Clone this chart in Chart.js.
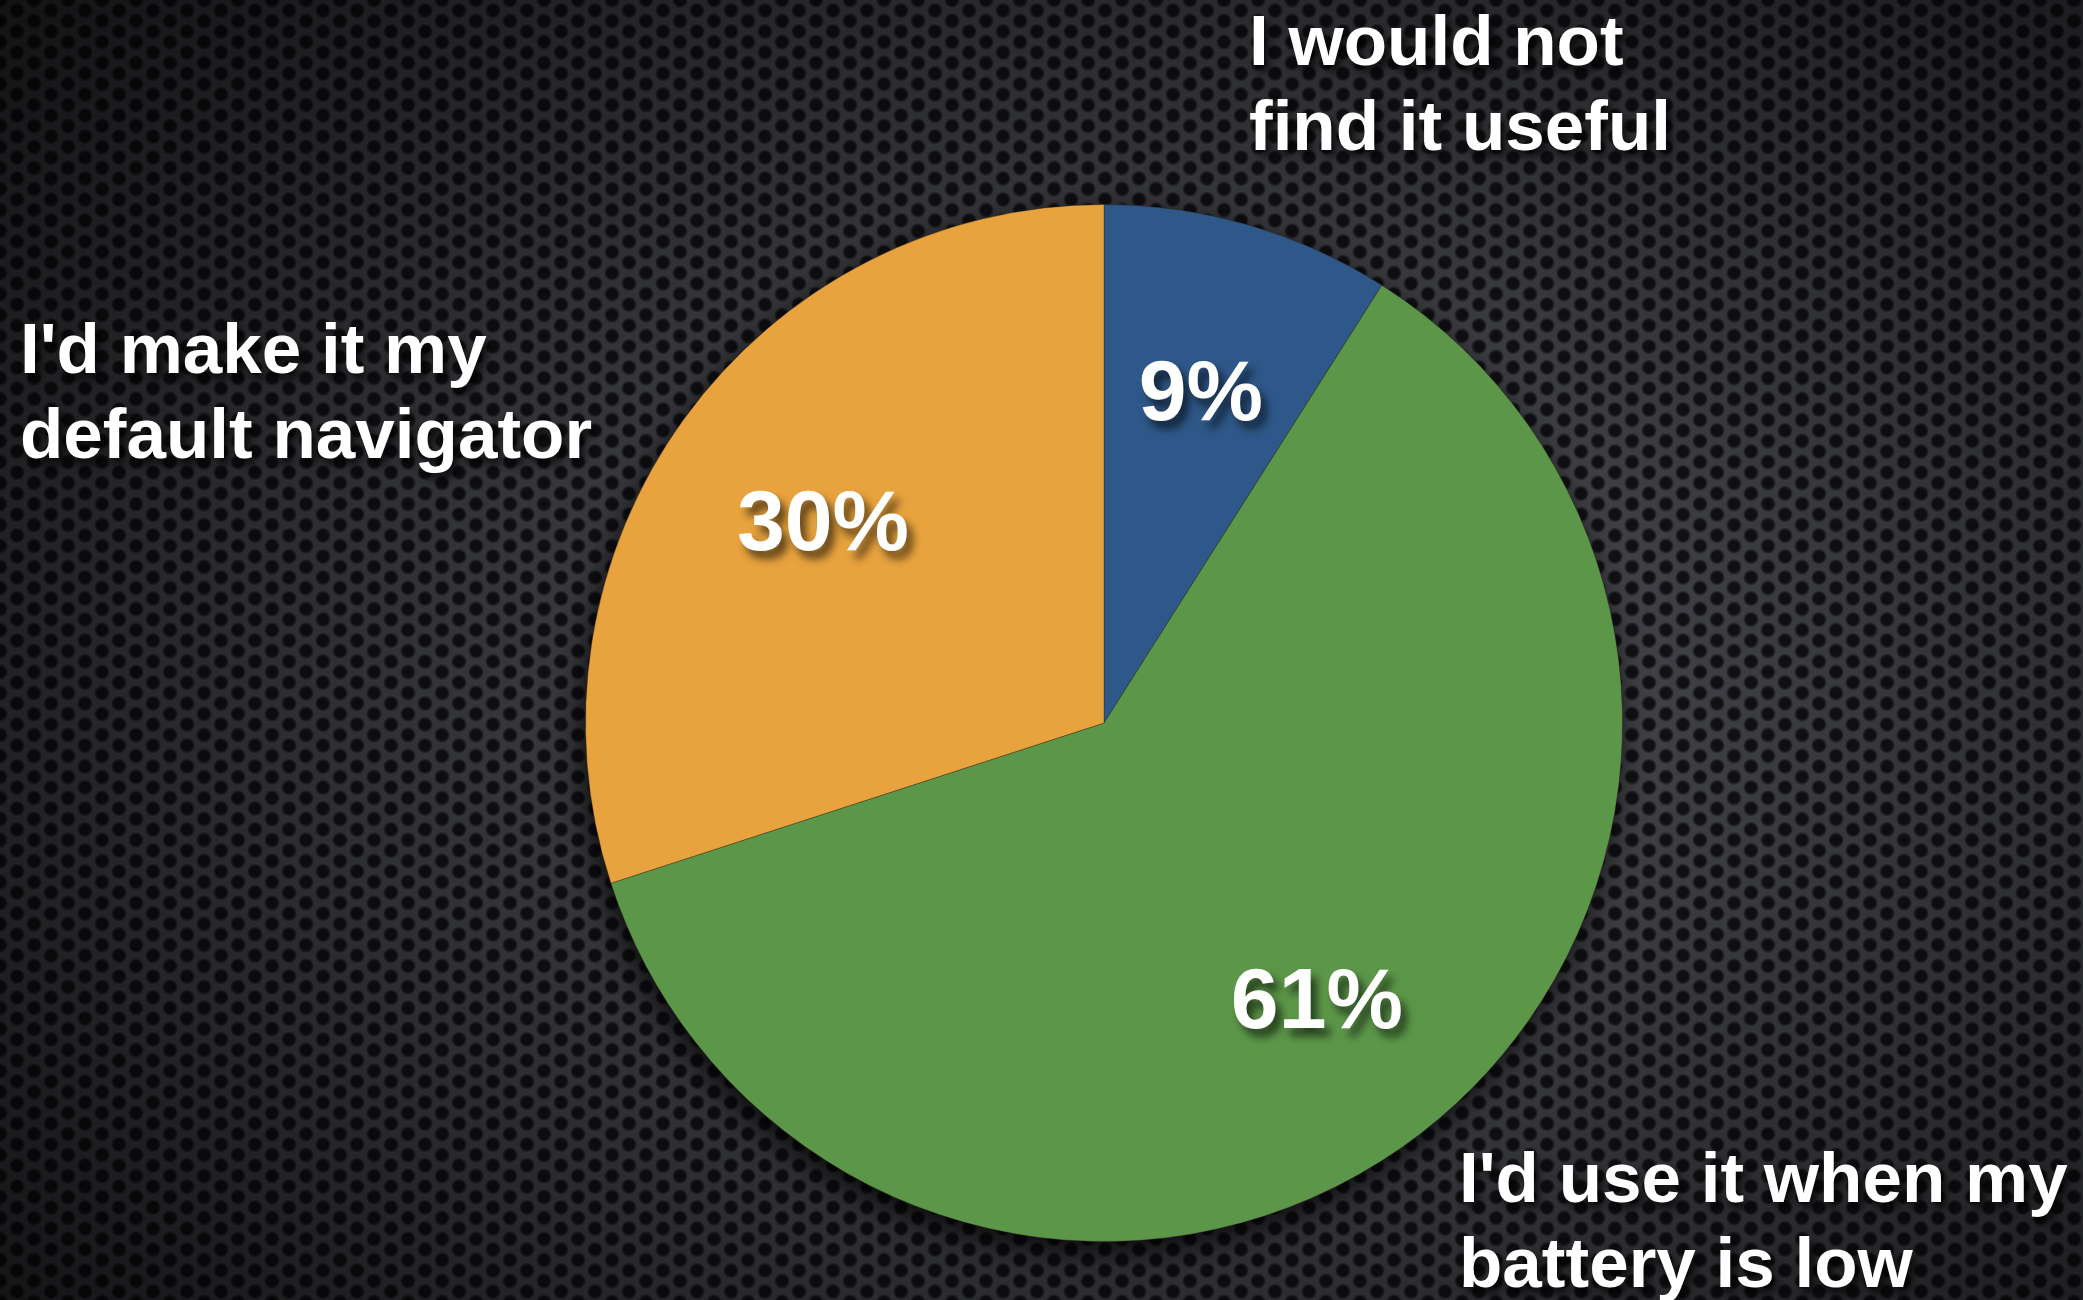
<!DOCTYPE html>
<html>
<head>
<meta charset="utf-8">
<script src="https://cdn.jsdelivr.net/npm/chart.js@4"></script>
<style>
  html, body { margin: 0; padding: 0; }
  body {
    width: 2083px;
    height: 1300px;
    overflow: hidden;
    background-color: #44454a;
    background-image:
      radial-gradient(ellipse 75% 80% at 58% 52%, rgba(0,0,0,0) 20%, rgba(0,0,0,0.35) 60%, rgba(0,0,0,0.72) 100%),
      radial-gradient(circle at 50% 50%, #121216 5px, rgba(18,18,22,0.6) 6.5px, rgba(0,0,0,0) 8px),
      radial-gradient(circle at 50% 50%, #121216 5px, rgba(18,18,22,0.6) 6.5px, rgba(0,0,0,0) 8px);
    background-size: 100% 100%, 34px 21px, 34px 21px;
    background-position: 0 0, 0 0, 17px 10.5px;
  }
  #wrap { position: absolute; left: 0; top: 0; width: 2083px; height: 1300px; }
</style>
</head>
<body>
<div id="wrap"><canvas id="chart-pie" width="2083" height="1300"></canvas></div>
<script>
const categories = [
  ["I would not", "find it useful"],
  ["I'd use it when my", "battery is low"],
  ["I'd make it my", "default navigator"],
];
const shares = [9, 61, 30];
const sliceColors = ["#2e5889", "#5c9749", "#e8a33e"];

// where each category caption sits, relative to the pie centre
const captionOffsets = [
  { dx: 145, dy: -658 },
  { dx: 355, dy: 479 },
  { dx: -1084, dy: -350 },
];

const FONT = '"Liberation Sans", Arial, Helvetica, sans-serif';

const sliceLabels = {
  id: "sliceLabels",
  beforeDatasetsDraw(chart) {
    const arc = chart.getDatasetMeta(0).data[0];
    const ctx = chart.ctx;
    ctx.save();
    ctx.shadowColor = "rgba(0,0,0,0.8)";
    ctx.shadowBlur = 30;
    ctx.shadowOffsetX = -4;
    ctx.shadowOffsetY = 10;
    ctx.beginPath();
    ctx.arc(arc.x, arc.y, arc.outerRadius, 0, Math.PI * 2);
    ctx.fillStyle = "#1a1a1e";
    ctx.fill();
    ctx.restore();
  },
  afterDatasetsDraw(chart) {
    const ctx = chart.ctx;
    const meta = chart.getDatasetMeta(0);
    ctx.save();
    ctx.fillStyle = "#ffffff";
    ctx.shadowColor = "rgba(0,0,0,0.6)";
    ctx.shadowBlur = 9;
    ctx.shadowOffsetX = 6;
    ctx.shadowOffsetY = 8;
    ctx.textAlign = "center";
    ctx.textBaseline = "alphabetic";
    ctx.font = "bold 86px " + FONT;
    meta.data.forEach((arc, i) => {
      const mid = (arc.startAngle + arc.endAngle) / 2;
      const r = arc.outerRadius * 0.67;
      const x = arc.x + Math.cos(mid) * r;
      const y = arc.y + Math.sin(mid) * r;
      ctx.fillText(shares[i] + "%", x, y + 31);
    });

    ctx.textAlign = "left";
    ctx.font = "bold 71px " + FONT;
    ctx.shadowColor = "rgba(0,0,0,0.85)";
    ctx.shadowBlur = 8;
    ctx.shadowOffsetX = 4;
    ctx.shadowOffsetY = 6;
    const c = meta.data[0];
    categories.forEach((lines, i) => {
      const o = captionOffsets[i];
      lines.forEach((line, j) => {
        ctx.fillText(line, c.x + o.dx, c.y + o.dy + j * 85);
      });
    });
    ctx.restore();
  },
};

new Chart(document.getElementById("chart-pie"), {
  type: "pie",
  data: {
    labels: categories.map((l) => l.join(" ")),
    datasets: [
      {
        data: shares,
        backgroundColor: sliceColors,
        borderColor: "rgba(40,30,20,0.35)",
        borderWidth: 1,
      },
    ],
  },
  options: {
    responsive: false,
    animation: false,
    layout: { padding: { top: 204, bottom: 58, left: 585, right: 460 } },
    plugins: {
      legend: { display: false },
      tooltip: { enabled: false },
    },
  },
  plugins: [sliceLabels],
});
</script>
</body>
</html>
